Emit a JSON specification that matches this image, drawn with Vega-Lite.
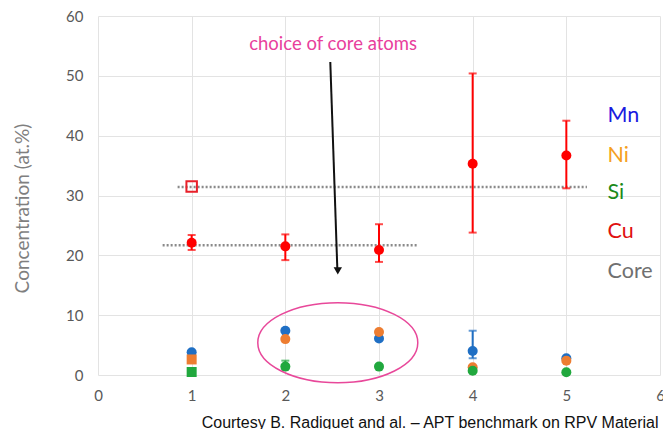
{
  "$schema": "https://vega.github.io/schema/vega-lite/v6.json",
  "width": 562,
  "height": 359,
  "autosize": "none",
  "padding": {"left": 98, "top": 16, "right": 3, "bottom": 54},
  "background": "white",
  "config": {"view": {"stroke": null}},
  "datasets": {
    "pts": [
      {"x": 1, "y": 3.8, "el": "Mn", "kind": "cluster"},
      {"x": 1, "y": 2.6, "el": "Ni", "kind": "core"},
      {"x": 1, "y": 0.5, "el": "Si", "kind": "core"},
      {"x": 1, "y": 22.1, "el": "Cu", "kind": "cluster"},
      {"x": 2, "y": 7.4, "el": "Mn", "kind": "cluster"},
      {"x": 2, "y": 6.0, "el": "Ni", "kind": "cluster"},
      {"x": 2, "y": 1.4, "el": "Si", "kind": "cluster"},
      {"x": 2, "y": 21.5, "el": "Cu", "kind": "cluster"},
      {"x": 3, "y": 6.1, "el": "Mn", "kind": "cluster"},
      {"x": 3, "y": 7.2, "el": "Ni", "kind": "cluster"},
      {"x": 3, "y": 1.4, "el": "Si", "kind": "cluster"},
      {"x": 3, "y": 20.9, "el": "Cu", "kind": "cluster"},
      {"x": 4, "y": 4.0, "el": "Mn", "kind": "cluster"},
      {"x": 4, "y": 1.3, "el": "Ni", "kind": "cluster"},
      {"x": 4, "y": 0.7, "el": "Si", "kind": "cluster"},
      {"x": 4, "y": 35.3, "el": "Cu", "kind": "cluster"},
      {"x": 5, "y": 2.8, "el": "Mn", "kind": "cluster"},
      {"x": 5, "y": 2.4, "el": "Ni", "kind": "cluster"},
      {"x": 5, "y": 0.45, "el": "Si", "kind": "cluster"},
      {"x": 5, "y": 36.7, "el": "Cu", "kind": "cluster"}
    ],
    "errs": [
      {"x": 1, "el": "Cu", "lo": 20.9, "hi": 23.4},
      {"x": 2, "el": "Cu", "lo": 19.2, "hi": 23.5},
      {"x": 3, "el": "Cu", "lo": 18.9, "hi": 25.2},
      {"x": 4, "el": "Cu", "lo": 23.8, "hi": 50.4},
      {"x": 5, "el": "Cu", "lo": 31.2, "hi": 42.5},
      {"x": 4, "el": "Mn", "lo": 2.8, "hi": 7.4},
      {"x": 2, "el": "Si", "lo": 1.0, "hi": 2.4}
    ],
    "coreLines": [
      {"x0": 0.85, "x1": 5.22, "y": 31.4},
      {"x0": 0.69, "x1": 3.42, "y": 21.7}
    ],
    "corePt": [{"x": 1, "y": 31.5}],
    "ellipse": [{"x": 2.56, "y": 5.4}],
    "arrow": [{"x0": 2.48, "y0": 52.3, "x1": 2.555, "y1": 17.8}],
    "arrowHead": [{"x": 2.56, "y": 17.4}],
    "note": [{"x": 2.51, "y": 55.4, "t": "choice of core atoms"}],
    "labels": [
      {"x": 5.44, "y": 43.3, "t": "Mn"},
      {"x": 5.44, "y": 36.6, "t": "Ni"},
      {"x": 5.44, "y": 30.4, "t": "Si"},
      {"x": 5.44, "y": 23.9, "t": "Cu"},
      {"x": 5.44, "y": 17.2, "t": "Core"}
    ]
  },
  "layer": [
    {
      "data": {"name": "coreLines"},
      "mark": {"type": "rule", "color": "#8a8a8a", "strokeWidth": 2.5, "strokeDash": [2, 2]},
      "encoding": {
        "x": {
          "field": "x0", "type": "quantitative",
          "scale": {"domain": [0, 6], "nice": false},
          "axis": {
            "values": [0, 1, 2, 3, 4, 5, 6], "format": "d",
            "grid": true, "gridColor": "#e3e3e3", "domain": false, "ticks": false,
            "labelFont": "Lato", "labelFontSize": 15, "labelColor": "#595959",
            "labelPadding": 13, "labelFlush": false,
            "title": "Courtesy B. Radiguet and al. – APT benchmark on RPV Material",
            "titleFont": "Liberation Sans", "titleFontSize": 16, "titleFontWeight": "normal",
            "titleColor": "#111111", "titleAnchor": "end", "titleAlign": "right",
            "titleX": 560, "titleY": 52, "titleBaseline": "alphabetic"
          }
        },
        "x2": {"field": "x1"},
        "y": {
          "field": "y", "type": "quantitative",
          "scale": {"domain": [0, 60], "nice": false},
          "axis": {
            "values": [0, 10, 20, 30, 40, 50, 60], "format": "d",
            "grid": true, "gridColor": "#e3e3e3", "domain": false, "ticks": false,
            "labelFont": "Lato", "labelFontSize": 15, "labelColor": "#595959",
            "labelPadding": 15,
            "title": "Concentration (at.%)",
            "titleFont": "Lato", "titleFontSize": 19, "titleFontWeight": "normal",
            "titleColor": "#7f7f7f", "titleX": -76, "titleY": 192,
            "titleAlign": "center", "titleBaseline": "middle", "titleAngle": -90
          }
        }
      }
    },
    {
      "data": {"name": "errs"},
      "mark": {"type": "rule", "strokeWidth": 2},
      "encoding": {
        "x": {"field": "x", "type": "quantitative"},
        "y": {"field": "lo", "type": "quantitative"},
        "y2": {"field": "hi"},
        "color": {"field": "el", "type": "nominal",
          "scale": {"domain": ["Mn", "Ni", "Si", "Cu"], "range": ["#1f6fc4", "#ed7d31", "#21a83e", "#ff0000"]},
          "legend": null}
      }
    },
    {
      "data": {"name": "errs"},
      "mark": {"type": "tick", "orient": "horizontal", "size": 8, "thickness": 2},
      "encoding": {
        "x": {"field": "x", "type": "quantitative"},
        "y": {"field": "lo", "type": "quantitative"},
        "color": {"field": "el", "type": "nominal", "legend": null}
      }
    },
    {
      "data": {"name": "errs"},
      "mark": {"type": "tick", "orient": "horizontal", "size": 8, "thickness": 2},
      "encoding": {
        "x": {"field": "x", "type": "quantitative"},
        "y": {"field": "hi", "type": "quantitative"},
        "color": {"field": "el", "type": "nominal", "legend": null}
      }
    },
    {
      "data": {"name": "pts"},
      "mark": {"type": "point", "filled": true, "opacity": 1, "size": 100},
      "encoding": {
        "x": {"field": "x", "type": "quantitative"},
        "y": {"field": "y", "type": "quantitative"},
        "color": {"field": "el", "type": "nominal", "legend": null},
        "shape": {"field": "kind", "type": "nominal",
          "scale": {"domain": ["cluster", "core"], "range": ["circle", "square"]},
          "legend": null}
      }
    },
    {
      "data": {"name": "corePt"},
      "mark": {"type": "point", "shape": "square", "filled": false, "size": 110, "strokeWidth": 2, "color": "#e8202a", "opacity": 1},
      "encoding": {
        "x": {"field": "x", "type": "quantitative"},
        "y": {"field": "y", "type": "quantitative"}
      }
    },
    {
      "data": {"name": "ellipse"},
      "mark": {"type": "point", "shape": "M-1,0A1,0.5,0,1,0,1,0A1,0.5,0,1,0,-1,0Z", "filled": false, "size": 25600, "strokeWidth": 1.5, "color": "#e8489a", "opacity": 1},
      "encoding": {
        "x": {"field": "x", "type": "quantitative"},
        "y": {"field": "y", "type": "quantitative"}
      }
    },
    {
      "data": {"name": "arrow"},
      "mark": {"type": "rule", "color": "#111111", "strokeWidth": 2},
      "encoding": {
        "x": {"field": "x0", "type": "quantitative"},
        "y": {"field": "y0", "type": "quantitative"},
        "x2": {"field": "x1"},
        "y2": {"field": "y1"}
      }
    },
    {
      "data": {"name": "arrowHead"},
      "mark": {"type": "point", "shape": "triangle-down", "filled": true, "size": 70, "color": "#111111", "opacity": 1},
      "encoding": {
        "x": {"field": "x", "type": "quantitative"},
        "y": {"field": "y", "type": "quantitative"}
      }
    },
    {
      "data": {"name": "note"},
      "mark": {"type": "text", "font": "Lato", "fontSize": 18.5, "color": "#e8409c", "align": "center", "baseline": "middle"},
      "encoding": {
        "x": {"field": "x", "type": "quantitative"},
        "y": {"field": "y", "type": "quantitative"},
        "text": {"field": "t"}
      }
    },
    {
      "data": {"name": "labels"},
      "mark": {"type": "text", "font": "Lato", "fontSize": 21.5, "align": "left", "baseline": "middle"},
      "encoding": {
        "x": {"field": "x", "type": "quantitative"},
        "y": {"field": "y", "type": "quantitative"},
        "text": {"field": "t"},
        "fill": {"field": "t", "type": "nominal",
          "scale": {"domain": ["Mn", "Ni", "Si", "Cu", "Core"], "range": ["#1a1ae0", "#f5a01e", "#1a8a1a", "#e01010", "#707070"]},
          "legend": null}
      }
    }
  ]
}
